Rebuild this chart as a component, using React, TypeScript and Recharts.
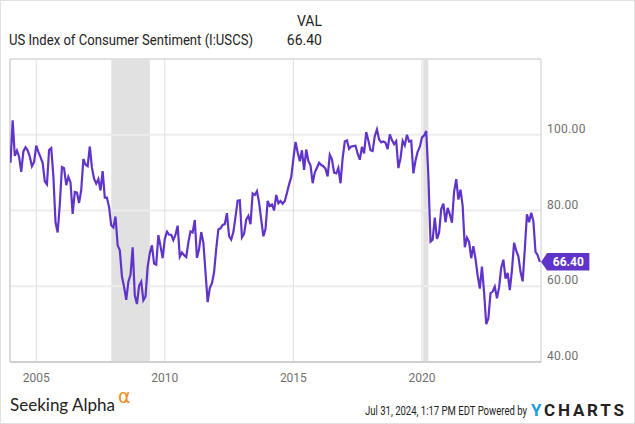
import { LineChart, Line, XAxis, YAxis, ReferenceLine, ReferenceArea, ReferenceDot } from "recharts";

// monthly readings, first one is Dec 2003 (plotted at month end, like ycharts does)
const firstMonth = { year: 2003, month: 12 };
const sentiment = [
  92.6,
  103.8, 94.4, 95.8, 94.2, 90.2, 95.6, 96.7, 95.9, 94.2, 91.7, 92.8, 97.1, // 2004
  95.5, 94.1, 92.6, 87.7, 86.9, 96.0, 96.5, 89.1, 76.9, 74.2, 81.6, 91.5, // 2005
  91.2, 86.7, 88.9, 87.4, 79.1, 84.9, 84.7, 82.0, 85.4, 93.6, 92.1, 91.7, // 2006
  96.9, 91.3, 88.4, 87.1, 88.3, 85.3, 90.4, 83.4, 83.4, 80.9, 76.1, 75.5, // 2007
  78.4, 70.8, 69.5, 62.6, 59.8, 56.4, 61.2, 63.0, 70.3, 57.6, 55.3, 60.1, // 2008
  61.2, 56.3, 57.3, 65.1, 68.7, 70.8, 66.0, 65.7, 73.5, 70.6, 67.4, 72.5, // 2009
  74.4, 73.6, 73.6, 72.2, 73.6, 76.0, 67.8, 68.9, 68.2, 67.7, 71.6, 74.5, // 2010
  74.2, 77.5, 67.5, 69.8, 74.3, 71.5, 63.7, 55.8, 59.5, 60.8, 63.7, 69.9, // 2011
  75.0, 75.3, 76.2, 76.4, 79.3, 73.2, 72.3, 74.3, 78.3, 82.6, 82.7, 72.9, // 2012
  73.8, 77.6, 78.6, 76.4, 84.5, 84.1, 85.1, 82.1, 77.5, 73.2, 75.1, 82.5, // 2013
  81.2, 81.6, 80.0, 84.1, 81.9, 82.5, 81.8, 82.5, 84.6, 86.9, 88.8, 93.6, // 2014
  98.1, 95.4, 93.0, 95.9, 90.7, 96.1, 93.1, 91.9, 87.2, 90.0, 91.3, 92.6, // 2015
  92.0, 91.7, 91.0, 89.0, 94.7, 93.5, 90.0, 89.8, 91.2, 87.2, 93.8, 98.2, // 2016
  98.5, 96.3, 96.9, 97.0, 97.1, 95.0, 93.4, 96.8, 95.1, 100.7, 98.5, 95.9, // 2017
  95.7, 99.7, 101.4, 98.8, 98.0, 98.2, 97.9, 96.2, 100.1, 98.6, 97.5, 98.3, // 2018
  91.2, 93.8, 98.4, 97.2, 100.0, 98.2, 98.4, 89.8, 93.2, 95.5, 96.8, 99.3, // 2019
  99.8, 101.0, 89.1, 71.8, 72.3, 78.1, 72.5, 74.1, 80.4, 81.8, 76.9, 80.7, // 2020
  79.0, 76.8, 84.9, 88.3, 82.9, 85.5, 81.2, 70.3, 72.8, 71.7, 67.4, 70.6, // 2021
  67.2, 62.8, 59.4, 65.2, 58.4, 50.0, 51.5, 58.2, 58.6, 59.9, 56.8, 59.7, // 2022
  64.9, 67.0, 62.0, 63.5, 59.0, 64.2, 71.5, 69.4, 67.9, 63.8, 61.3, 69.7, // 2023
  79.0, 76.9, 79.4, 77.2, 69.1, 68.2, 66.4, // 2024
];

const recessions = [
  [2007.92, 2009.42],
  [2020.05, 2020.25],
];
const yTicks = [40, 60, 80, 100];
const yearTicks = [2005, 2010, 2015, 2020];
const xDomain = [2003.98, 2024.63];
const yDomain = [40, 120];
const seriesName = "US Index of Consumer Sentiment (I:USCS)";
const stampText = "Jul 31, 2024, 1:17 PM EDT Powered by";

const purple = "#6034c9";

const data = sentiment.map((v, i) => ({ t: firstMonth.year + (firstMonth.month + i) / 12, v }));
const last = data[data.length - 1];

function YTick({ y, payload }: any) {
  return (
    <text x={547} y={y - 6} fill="#707070" fontSize={12} fontFamily="Roboto" dominantBaseline="central" letterSpacing={0.3}>
      {payload.value.toFixed(2)}
    </text>
  );
}

function XTick({ x, y, payload }: any) {
  return (
    <text x={x} y={y + 8} fill="#707070" fontSize={12} fontFamily="Roboto" textAnchor="middle" dominantBaseline="central">
      {payload.value}
    </text>
  );
}

function ValueFlag({ cx, cy }: any) {
  return (
    <g>
      <polygon
        points={`${cx + 1.3},${cy} ${cx + 7.3},${cy - 9} ${cx + 49.6},${cy - 9} ${cx + 49.6},${cy + 8.5} ${cx + 7.3},${cy + 8.5}`}
        fill={purple}
      />
      <text x={cx + 28.5} y={cy} fill="#fff" fontSize={12} fontWeight="bold" fontFamily="Roboto" textAnchor="middle" dominantBaseline="central">
        {last.v.toFixed(2)}
      </text>
    </g>
  );
}

export default function App() {
  return (
    <div style={{ position: "absolute", left: 0, top: 0, width: 635, height: 424, background: "#fff" }}>
      <LineChart width={635} height={424} data={data} margin={{ top: 59, right: 0, bottom: 0, left: 10 }}>
        <XAxis
          dataKey="t"
          type="number"
          domain={xDomain}
          ticks={yearTicks}
          allowDataOverflow
          axisLine={false}
          tickLine={false}
          height={62}
          tick={<XTick />}
        />
        <YAxis
          orientation="right"
          domain={yDomain}
          ticks={yTicks}
          allowDataOverflow
          axisLine={false}
          tickLine={false}
          width={94}
          tick={<YTick />}
        />
        {yTicks.slice(1).map((v) => (
          <ReferenceLine key={"h" + v} y={v} stroke="#ececec" strokeWidth={2} />
        ))}
        {yearTicks.map((t) => (
          <ReferenceLine key={"v" + t} x={t} stroke="#dedede" strokeWidth={1} />
        ))}
        {recessions.map(([a, b]) => (
          <ReferenceArea key={a} x1={a} x2={b} fill="#e1e1e1" fillOpacity={1} stroke="none" />
        ))}
        <ReferenceLine y={yDomain[1]} stroke="#e0e0e0" strokeWidth={2} />
        <ReferenceLine y={yDomain[0]} stroke="#d0d0d0" strokeWidth={2} />
        <ReferenceLine x={xDomain[0]} stroke="#cccccc" strokeWidth={1.5} />
        <ReferenceLine x={xDomain[1]} stroke="#cccccc" strokeWidth={1} />
        <Line type="linear" dataKey="v" stroke={purple} strokeWidth={2.2} dot={false} isAnimationActive={false} />
        <ReferenceDot x={last.t} y={last.v} r={0} shape={<ValueFlag />} />
      </LineChart>
      <svg width={635} height={424} style={{ position: "absolute", left: 0, top: 0, pointerEvents: "none" }}>
        <rect x={0.5} y={0.5} width={634} height={423} fill="none" stroke="#e2e2e2" />
        <text x={322} y={21} fontSize={14} fontFamily="Roboto" fill="#222" textAnchor="end" dominantBaseline="central">
          VAL
        </text>
        <text x={9} y={40} fontSize={14} fontFamily="Roboto" fill="#222" dominantBaseline="central" textLength={244} lengthAdjust="spacingAndGlyphs">
          {seriesName}
        </text>
        <text x={322} y={40} fontSize={14} fontFamily="Roboto" fill="#222" textAnchor="end" dominantBaseline="central">
          {last.v.toFixed(2)}
        </text>
        <text x={10} y={411} fontSize={17.5} fontFamily="Lato" fill="#222" textLength={105} lengthAdjust="spacingAndGlyphs">
          Seeking Alpha
        </text>
        <text x={118} y={403} fontSize={19} fontFamily="DejaVu Sans" fill="#f08a1c">
          α
        </text>
        <g transform="translate(365,411) scale(0.795,1)">
          <text x={0} y={0} fontSize={12} fontFamily="Roboto" fill="#222" dominantBaseline="central">
            {stampText}
          </text>
        </g>
        <text x={531} y={410} fontSize={17} fontWeight="bold" fontFamily="Roboto" fill="#1d9be6" dominantBaseline="central">
          Y
        </text>
        <text x={544} y={410} fontSize={17} fontWeight="bold" fontFamily="Roboto" fill="#222" dominantBaseline="central" letterSpacing={2.8}>
          CHARTS
        </text>
      </svg>
    </div>
  );
}
